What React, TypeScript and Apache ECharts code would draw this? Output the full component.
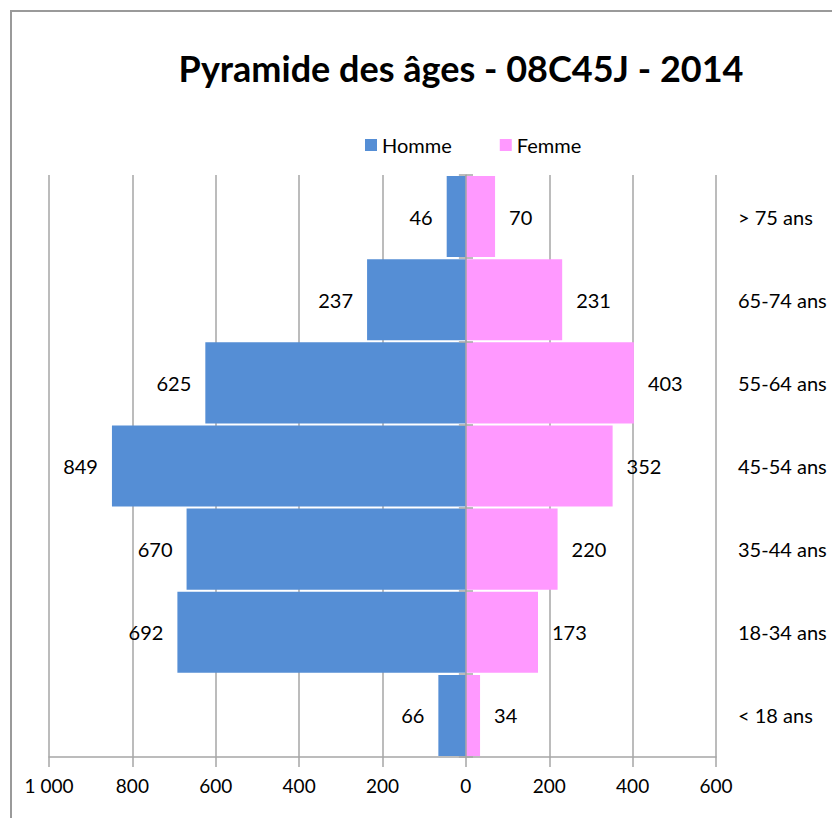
import React, { useEffect, useRef } from "react";
import * as echarts from "echarts";

const categories = ["< 18 ans", "18-34 ans", "35-44 ans", "45-54 ans", "55-64 ans", "65-74 ans", "> 75 ans"];
const hommeValues = [66, 692, 670, 849, 625, 237, 46];
const femmeValues = [34, 173, 220, 352, 403, 231, 70];
const xTicks = { min: -1000, max: 600, interval: 200 };
const titleText = "Pyramide des âges - 08C45J - 2014";
const seriesNames = ["Homme", "Femme"];

const FONT = "Lato, 'Open Sans', sans-serif";
const BLUE = "#558ED5";
const PINK = "#FF99FF";
const GRAY = "#A6A6A6";

function fmt(v: number): string {
  const a = Math.abs(v);
  return a >= 1000 ? a.toString().replace(/\B(?=(\d{3})+(?!\d))/g, " ") : String(a);
}

export default function App() {
  const ref = useRef<HTMLDivElement>(null);
  useEffect(() => {
    if (!ref.current) return;
    const chart = echarts.init(ref.current, null, { renderer: "svg" });
    chart.setOption({
      animation: false,
      backgroundColor: "#ffffff",
      graphic: [
        {
          type: "rect",
          shape: { x: 11, y: 11, width: 900, height: 900 },
          style: { fill: "none", stroke: "#9a9a9a", lineWidth: 2 },
          silent: true,
        },
      ],
      title: {
        text: titleText,
        left: 456,
        textAlign: "center",
        top: 45,
        textStyle: { fontFamily: FONT, fontSize: 36, fontWeight: "bold", color: "#000" },
      },
      legend: {
        data: seriesNames,
        left: 360,
        top: 130,
        itemWidth: 12,
        itemHeight: 12,
        itemGap: 48,
        icon: "rect",
        textStyle: { fontFamily: FONT, fontSize: 20, color: "#000" },
      },
      grid: { left: 49, right: 116, top: 175, bottom: 61, containLabel: false },
      xAxis: {
        type: "value",
        min: xTicks.min,
        max: xTicks.max,
        interval: xTicks.interval,
        axisLine: { show: true, onZero: false, lineStyle: { color: GRAY, width: 1.5 } },
        axisTick: { show: true, length: 10, lineStyle: { color: GRAY, width: 1.5 } },
        splitLine: { show: true, lineStyle: { color: GRAY, width: 1.5 } },
        axisLabel: {
          formatter: (v: number) => fmt(v),
          fontFamily: FONT,
          fontSize: 19,
          color: "#000",
          margin: 19,
        },
      },
      yAxis: [
        {
          type: "category",
          data: categories,
          position: "left",
          axisLine: { show: true, onZero: true, lineStyle: { color: GRAY, width: 1.5 } },
          axisTick: { show: true, length: 7, inside: false, lineStyle: { color: GRAY, width: 1.5 } },
          axisLabel: { show: false },
          splitLine: { show: false },
          z: 10,
        },
        {
          type: "category",
          data: categories,
          position: "right",
          axisLine: { show: false, onZero: false },
          axisTick: { show: false },
          axisLabel: {
            show: true,
            align: "left",
            margin: 22,
            fontFamily: FONT,
            fontSize: 20,
            color: "#000",
          },
          splitLine: { show: false },
        },
        {
          type: "category",
          data: categories,
          position: "left",
          offset: -417,
          axisLine: { show: false, onZero: false },
          axisTick: { show: true, length: 7, inside: true, lineStyle: { color: GRAY, width: 1.5 } },
          axisLabel: { show: false },
          splitLine: { show: false },
          z: 10,
        },
      ],
      series: [
        {
          name: seriesNames[0],
          type: "bar",
          yAxisIndex: 0,
          data: hommeValues.map((v) => -v),
          barGap: "-100%",
          barCategoryGap: "2.5%",
          itemStyle: { color: BLUE },
          label: {
            show: true,
            position: "left",
            distance: 14,
            formatter: (p: any) => fmt(p.value),
            fontFamily: FONT,
            fontSize: 20,
            color: "#000",
          },
        },
        {
          name: seriesNames[1],
          type: "bar",
          yAxisIndex: 0,
          data: femmeValues,
          barGap: "-100%",
          barCategoryGap: "2.5%",
          itemStyle: { color: PINK },
          label: {
            show: true,
            position: "right",
            distance: 14,
            formatter: (p: any) => fmt(p.value),
            fontFamily: FONT,
            fontSize: 20,
            color: "#000",
          },
        },
      ],
    });
    return () => chart.dispose();
  }, []);
  return (
    <div
      ref={ref}
      style={{ position: "fixed", left: 0, top: 0, width: 832, height: 818, background: "#fff" }}
    />
  );
}
